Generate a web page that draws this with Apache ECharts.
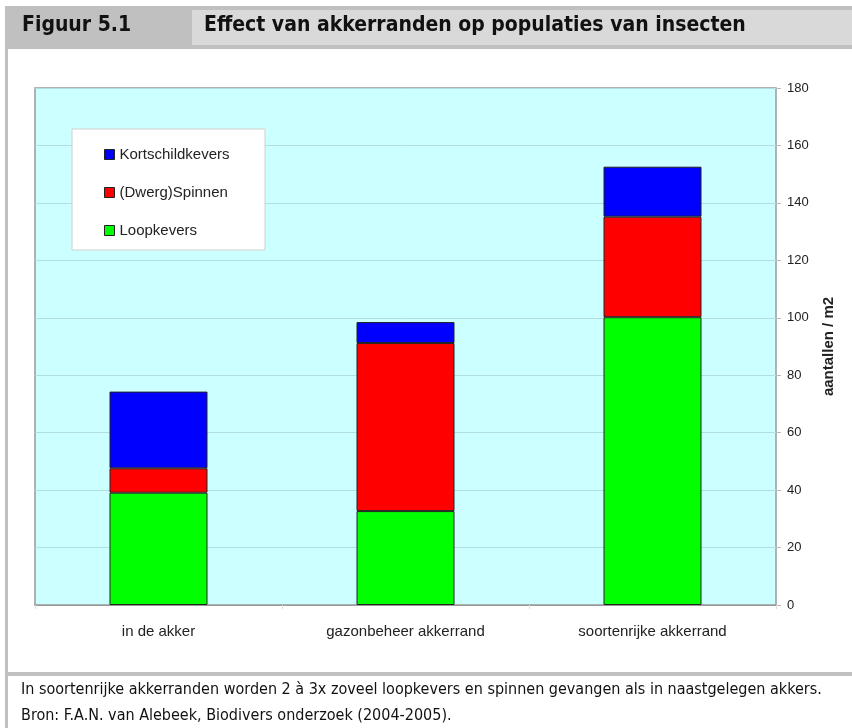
<!DOCTYPE html>
<html>
<head>
<meta charset="utf-8">
<script src="https://cdn.jsdelivr.net/npm/echarts@6/dist/echarts.min.js"></script>
<style>
  html, body { margin: 0; padding: 0; background: #fff; }
  #chart { width: 852px; height: 728px; }
</style>
</head>
<body>
<div id="chart"></div>
<script>
// gegevens
var categories = ['in de akker', 'gazonbeheer akkerrand', 'soortenrijke akkerrand'];
var loopkevers = [39.1, 32.7, 100.2];
var spinnen = [8.5, 58.5, 35.0];
var kortschild = [26.7, 7.3, 17.4];
var yTicks = [0, 180, 20];

var chart = echarts.init(document.getElementById('chart'));
var narrow = '"Liberation Sans Narrow", "DejaVu Sans Condensed", Arial, sans-serif';
var arial = 'Arial, "Liberation Sans", sans-serif';
var frame = '#c0c0c0';

var barStyle = function (color) {
	return { color: color, borderColor: '#222', borderWidth: 1 };
};

var option = {
	backgroundColor: '#fff',
	animation: false,
	graphic: [
		// kopbalk
		{ type: 'rect', shape: { x: 5, y: 6, width: 847, height: 43 }, style: { fill: frame }, silent: true },
		{ type: 'rect', shape: { x: 192, y: 10, width: 660, height: 35 }, style: { fill: '#d9d9d9' }, silent: true },
		{ type: 'text', left: 22, top: 15, style: { text: 'Figuur 5.1', font: 'bold 21px ' + narrow, fill: '#111' } },
		{ type: 'text', left: 204, top: 15, style: { text: 'Effect van akkerranden op populaties van insecten', font: 'bold 21px ' + narrow, fill: '#111' } },
		// kader
		{ type: 'rect', shape: { x: 5, y: 49, width: 3, height: 679 }, style: { fill: frame }, silent: true },
		{ type: 'rect', shape: { x: 5, y: 672, width: 847, height: 4 }, style: { fill: frame }, silent: true },
		// bijschrift
		{ type: 'text', left: 21, top: 682, style: { text: 'In soortenrijke akkerranden worden 2 à 3x zoveel loopkevers en spinnen gevangen als in naastgelegen akkers.', font: '16px ' + narrow, fill: '#111' } },
		{ type: 'text', left: 21, top: 708, style: { text: 'Bron: F.A.N. van Alebeek, Biodivers onderzoek (2004-2005).', font: '16px ' + narrow, fill: '#111' } },
		// legendakader
		{ type: 'rect', z: 5, shape: { x: 72, y: 129, width: 193, height: 121 }, style: { fill: '#fff', stroke: '#cfcfcf', lineWidth: 1 } }
	],
	legend: {
		z: 10,
		orient: 'vertical',
		left: 99,
		top: 142,
		itemGap: 23,
		itemWidth: 10,
		itemHeight: 10,
		icon: 'rect',
		data: ['Kortschildkevers', '(Dwerg)Spinnen', 'Loopkevers'],
		textStyle: { fontFamily: arial, fontSize: 15, color: '#222' },
		itemStyle: { borderColor: '#222', borderWidth: 1 }
	},
	grid: {
		left: 35,
		right: 76,
		top: 88,
		bottom: 123,
		show: true,
		backgroundColor: '#ccffff',
		borderColor: '#999',
		borderWidth: 1.5
	},
	xAxis: {
		type: 'category',
		data: categories,
		axisLine: { show: true, lineStyle: { color: '#999', width: 1 } },
		axisTick: { show: true, length: 4, lineStyle: { color: '#ddd' } },
		axisLabel: { margin: 19, fontFamily: arial, fontSize: 15, color: '#222' },
		splitLine: { show: false }
	},
	yAxis: {
		type: 'value',
		position: 'right',
		min: yTicks[0],
		max: yTicks[1],
		interval: yTicks[2],
		name: 'aantallen / m2',
		nameLocation: 'middle',
		nameRotate: 90,
		nameGap: 45,
		nameTextStyle: { fontFamily: arial, fontSize: 15, fontWeight: 'bold', color: '#222' },
		axisLine: { show: false },
		axisTick: { show: true, length: 5, lineStyle: { color: '#bbb' } },
		axisLabel: { margin: 11, fontFamily: arial, fontSize: 13, color: '#222' },
		splitLine: { lineStyle: { color: '#b3dede', width: 1 } }
	},
	series: [
		{ name: 'Loopkevers', type: 'bar', stack: 'tot', barWidth: 98, data: loopkevers, itemStyle: barStyle('#00ff00') },
		{ name: '(Dwerg)Spinnen', type: 'bar', stack: 'tot', barWidth: 98, data: spinnen, itemStyle: barStyle('#ff0000') },
		{ name: 'Kortschildkevers', type: 'bar', stack: 'tot', barWidth: 98, data: kortschild, itemStyle: barStyle('#0000ff') }
	]
};
chart.setOption(option);
</script>
</body>
</html>
